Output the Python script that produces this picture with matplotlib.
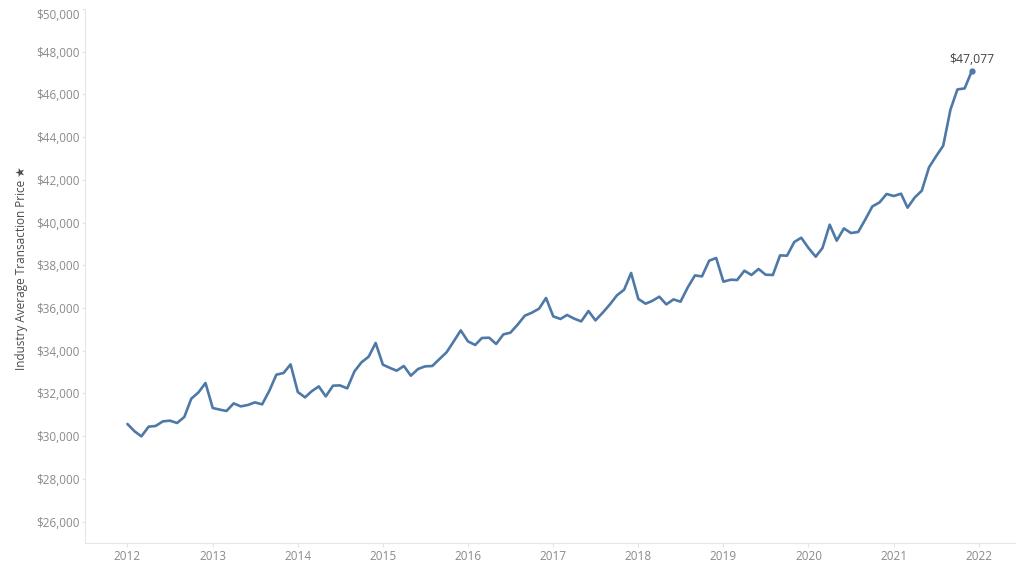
import matplotlib
matplotlib.use("Agg")
import matplotlib.pyplot as plt
import pandas as pd

# ---- data (monthly industry average transaction price, Jan 2012 - Dec 2021) ----
start_month = "2012-01-01"
avg_price = [
    # 2012
    30572, 30226, 29992, 30446, 30479, 30694, 30727, 30619, 30900, 31757, 32052, 32492,
    # 2013
    31321, 31242, 31181, 31537, 31396, 31462, 31584, 31490, 32131, 32880, 32960, 33362,
    # 2014
    32070, 31818, 32099, 32332, 31864, 32365, 32379, 32239, 33035, 33456, 33723, 34364,
    # 2015
    33348, 33194, 33067, 33287, 32833, 33147, 33269, 33287, 33615, 33924, 34439, 34954,
    # 2016
    34439, 34271, 34598, 34612, 34317, 34767, 34846, 35221, 35642, 35782, 35970, 36471,
    # 2017
    35609, 35488, 35675, 35502, 35375, 35862, 35422, 35782, 36171, 36592, 36859, 37641,
    # 2018
    36424, 36204, 36330, 36531, 36171, 36405, 36297, 36967, 37528, 37482, 38217, 38343,
    # 2019
    37234, 37327, 37313, 37748, 37547, 37828, 37561, 37547, 38465, 38451, 39092, 39293,
    # 2020
    38811, 38404, 38811, 39902, 39153, 39728, 39513, 39560, 40150, 40758, 40946, 41339,
    # 2021
    41245, 41353, 40698, 41180, 41493, 42584, 43099, 43600, 45285, 46235, 46282, 47077,
]
year_ticks = list(range(2012, 2023))
price_ticks = list(range(26000, 50001, 2000))
y_title = "Industry Average Transaction Price"

months = pd.date_range(start_month, periods=len(avg_price), freq="MS")

# ---- figure ----
fig = plt.figure(figsize=(10.23, 5.75), dpi=100)
ax = fig.add_axes([85 / 1023, 1 - 543 / 575, (1015 - 85) / 1023, (543 - 9) / 575])

line_color = "#4e79a7"
font_fam = ["Open Sans", "DejaVu Sans"]
ax.plot(months, avg_price, color=line_color, lw=1.9, solid_joinstyle="round",
        solid_capstyle="round", zorder=3)
ax.plot(months[-1:], avg_price[-1:], "o", color=line_color, ms=3.5, zorder=4)
ax.annotate(f"${avg_price[-1]:,}", (months[-1], avg_price[-1]),
            xytext=(0, 4), textcoords="offset points", ha="center", va="bottom",
            fontsize=8.8, color="#444444", family=font_fam)

ax.set_ylim(25000, 50000)
ax.set_xlim(pd.Timestamp("2011-07-03"), pd.Timestamp("2022-06-05"))

ax.set_yticks(price_ticks)
ax.set_yticklabels([f"${v:,}" for v in price_ticks])
ax.set_xticks([pd.Timestamp(f"{y}-01-01") for y in year_ticks])
ax.set_xticklabels([str(y) for y in year_ticks])

for lab in ax.get_yticklabels() + ax.get_xticklabels():
    lab.set_family(font_fam)
    lab.set_fontsize(8.5)
    lab.set_color("#8a8a8a")
ax.get_yticklabels()[-1].set_va("top")

ax.tick_params(axis="y", length=2.5, width=0.8, color="#e3e3e3", pad=1.5)
ax.tick_params(axis="x", length=3, width=0.8, color="#e3e3e3", pad=2)

for s in ["top", "right"]:
    ax.spines[s].set_visible(False)
for s in ["left", "bottom"]:
    ax.spines[s].set_color("#e6e6e6")
    ax.spines[s].set_linewidth(0.8)

ax.grid(False)

fig.text(22 / 1023, 1 - 268 / 575, y_title + " \u2605", rotation=90,
         ha="center", va="center", fontsize=8.5, color="#4a4a4a",
         family=font_fam)

fig.savefig("out.png", dpi=100, facecolor="white")
